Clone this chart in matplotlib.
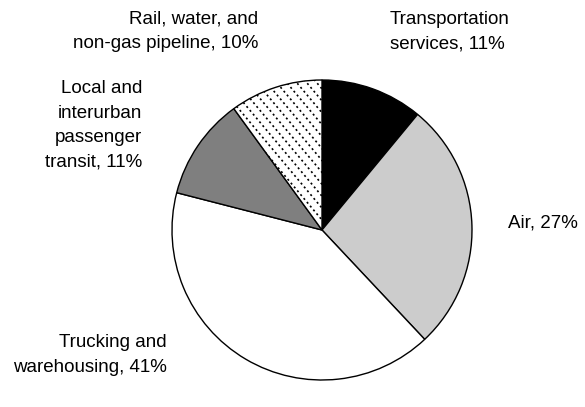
import numpy as np
import matplotlib
matplotlib.use("Agg")
import matplotlib.pyplot as plt

categories = ["Transportation\nservices, 11%", "Air, 27%", "Trucking and\nwarehousing, 41%",
              "Local and\ninterurban\npassenger\ntransit, 11%", "Rail, water, and\nnon-gas pipeline, 10%"]
values = [11, 27, 41, 11, 10]
colors = ["#000000", "#cccccc", "#ffffff", "#7f7f7f", "#ffffff"]

W, H = 585, 407
cx, cy, R = 322, 230, 150
fig = plt.figure(figsize=(W / 100, H / 100), dpi=100)
ax = fig.add_axes([(cx - R) / W, (H - cy - R) / H, 2 * R / W, 2 * R / H])

wedges, _ = ax.pie(values, colors=colors, startangle=90, counterclock=False, radius=1,
                   wedgeprops=dict(edgecolor="black", linewidth=1.0))
ax.set_xlim(-1, 1)
ax.set_ylim(-1, 1)
ax.axis("off")

# dotted diagonal hatching on the rail slice
w = wedges[4]
ang = np.deg2rad(-50)
d = np.array([np.cos(ang), np.sin(ang)])
nrm = np.array([-d[1], d[0]])
step = 10 / R * np.sin(-ang)
for off in np.arange(-2.0, 2.0, step):
    p0 = nrm * off - d * 2
    p1 = nrm * off + d * 2
    ln, = ax.plot([p0[0], p1[0]], [p0[1], p1[1]], color="black", linewidth=1.2,
                  linestyle=(0, (1.2, 1.8)), solid_capstyle="butt", dash_capstyle="butt",
                  zorder=1.5)
    ln.set_clip_path(w)

def px(x, y):
    return (x - cx) / R, (cy - y) / R

font = dict(family=["Liberation Sans", "DejaVu Sans"], fontsize=13.5, linespacing=1.58)
# label positions (pixel): anchor x, center y, ha
label_pos = [(390, 31.5, "left"), (508, 223, "left"), (167, 355, "right"),
             (142, 125.5, "right"), (258, 31.5, "right")]
for lab, (x, y, ha) in zip(categories, label_pos):
    tx, ty = px(x, y)
    ax.text(tx, ty, lab, ha=ha, va="center", multialignment=ha, clip_on=False, **font)

fig.savefig("out.png", dpi=100)
